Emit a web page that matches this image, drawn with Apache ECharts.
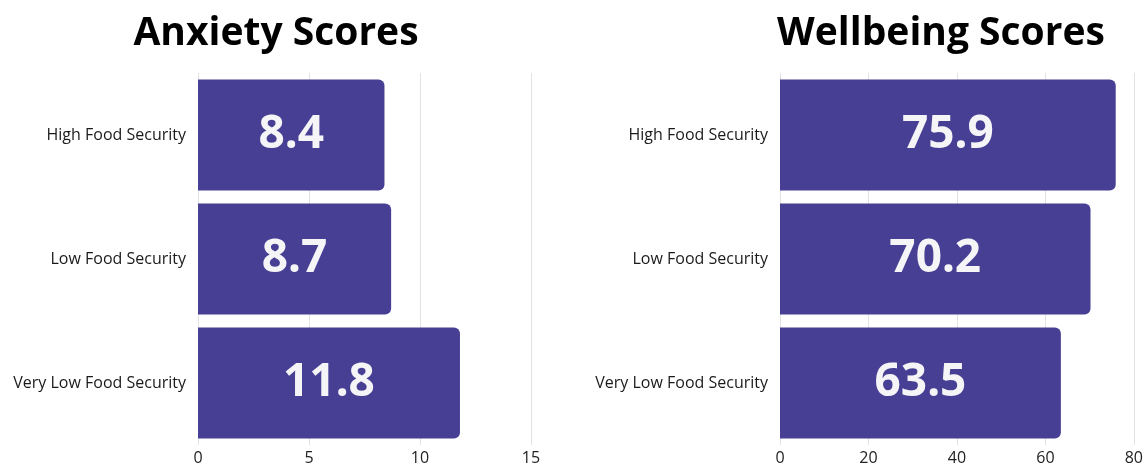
<!DOCTYPE html>
<html>
<head>
<meta charset="utf-8">
<script src="https://cdn.jsdelivr.net/npm/echarts@6/dist/echarts.min.js"></script>
<style>
html, body { margin: 0; padding: 0; background: #fff; }
#box { width: 1146px; height: 466px; }
</style>
</head>
<body>
<div id="box"></div>
<script>
var categories = ['High Food Security', 'Low Food Security', 'Very Low Food Security'];
var anxietyScores = [8.4, 8.7, 11.8];
var wellbeingScores = [75.9, 70.2, 63.5];

var barColor = '#463f94';
var myChart = echarts.init(document.getElementById('box'));

// 数值标签样式
var valueLabel = {
    show: true,
    position: 'inside',
    color: '#f5f5f7',
    fontSize: 46,
    fontWeight: 'bold',
    fontFamily: 'Noto Sans',
    formatter: function (p) { return p.value.toFixed(1); }
};

function catAxis(idx) {
    return {
        type: 'category',
        gridIndex: idx,
        data: categories,
        inverse: true,
        axisLine: { show: false },
        axisTick: { show: false },
        axisLabel: { color: '#1a1a1a', fontSize: 16, fontFamily: 'Open Sans', margin: 12 }
    };
}

function valAxis(idx, max, interval) {
    return {
        type: 'value',
        gridIndex: idx,
        min: 0,
        max: max,
        interval: interval,
        axisLine: { show: false },
        axisTick: { show: false },
        splitLine: { lineStyle: { color: '#e2e2e2', width: 1 } },
        axisLabel: { color: '#222', fontSize: 16, fontFamily: 'Open Sans', margin: 5 }
    };
}

var option = {
    animation: false,
    title: [{
        text: 'Anxiety Scores',
        left: 271, top: 9, textAlign: 'center',
        textStyle: { fontSize: 39, fontWeight: 'bold', color: '#000', fontFamily: 'Open Sans' }
    }, {
        text: 'Wellbeing Scores',
        left: 936, top: 9, textAlign: 'center',
        textStyle: { fontSize: 39, fontWeight: 'bold', color: '#000', fontFamily: 'Open Sans' }
    }],
    grid: [
        { left: 198, right: 615, top: 73, height: 376 },
        { left: 780, right: 12, top: 73, height: 376 }
    ],
    xAxis: [valAxis(0, 15, 5), valAxis(1, 80, 20)],
    yAxis: [catAxis(0), catAxis(1)],
    series: [{
        type: 'bar',
        xAxisIndex: 0, yAxisIndex: 0,
        data: anxietyScores,
        barCategoryGap: '10.5%',
        itemStyle: { color: barColor, borderRadius: [0, 6, 6, 0] },
        label: valueLabel
    }, {
        type: 'bar',
        xAxisIndex: 1, yAxisIndex: 1,
        data: wellbeingScores,
        barCategoryGap: '10.5%',
        itemStyle: { color: barColor, borderRadius: [0, 6, 6, 0] },
        label: valueLabel
    }]
};

myChart.setOption(option);
</script>
</body>
</html>
